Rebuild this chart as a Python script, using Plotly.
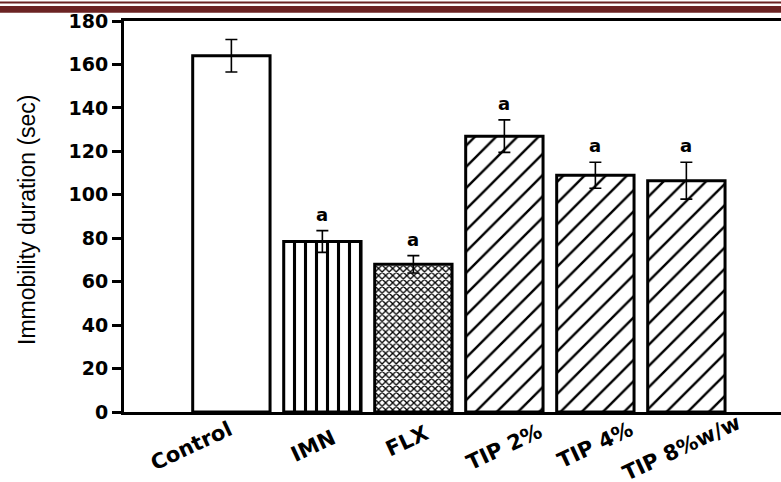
import plotly.graph_objects as go

categories = ["Control", "IMN", "FLX", "TIP 2%", "TIP 4%", "TIP 8%w/w"]
means = [164, 78.5, 68, 127, 109, 106.5]
errors = [7.5, 5, 4, 7.5, 6, 8.5]
sig_labels = ["", "a", "a", "a", "a", "a"]

pattern_shapes = ["", "|", "x", "/", "/", "/"]
pattern_sizes = [10, 11, 5, 15, 15, 15]
pattern_solid = [0.3, 0.28, 0.45, 0.16, 0.16, 0.16]

# horizontal offsets (px) of the rotated category labels' centres from the bar centres
label_xshift = [-40, -9, -6, 0, 0, -5]
label_center_y = [446, 446, 441, 447, 445, 448]

W, H = 781, 482
L, R, T, B = 124, 0, 21, 70
pw, ph = W - L - R, H - T - B

def px2paper_x(px):
    return (px - L) / pw

def px2paper_y(py):
    return (H - B - py) / ph

BOLD = dict(family="DejaVu Sans, Arial", color="black", weight="bold")

fig = go.Figure()
fig.add_trace(go.Bar(
    x=categories, y=means,
    marker=dict(
        color="white",
        line=dict(color="black", width=3),
        pattern=dict(shape=pattern_shapes, size=pattern_sizes, solidity=pattern_solid,
                     fgcolor="black", bgcolor="white", fillmode="replace"),
    ),
    error_y=dict(type="data", array=errors, visible=True, color="black", thickness=1.6, width=6),
    width=0.85,
    showlegend=False,
    hoverinfo="skip",
))

annotations = []
for c, m, e, s in zip(categories, means, errors, sig_labels):
    if s:
        annotations.append(dict(x=c, y=m + e, text=s, showarrow=False, yanchor="bottom",
                                yshift=4, font=dict(BOLD, size=18)))

for c, dx, cy in zip(categories, label_xshift, label_center_y):
    annotations.append(dict(x=c, xref="x", yref="paper", y=px2paper_y(cy), xshift=dx,
                            text=c, textangle=-25, showarrow=False,
                            xanchor="center", yanchor="middle",
                            font=dict(BOLD, size=21)))

annotations.append(dict(xref="paper", yref="paper", x=px2paper_x(27), y=px2paper_y(220),
                        text="Immobility duration (sec)", textangle=-90, showarrow=False,
                        xanchor="center", yanchor="middle",
                        font=dict(family="Liberation Sans Narrow, Arial Narrow, Liberation Sans, Arial",
                                  size=23, color="black")))

shapes = [
    dict(type="rect", xref="paper", yref="paper", x0=px2paper_x(0), x1=1,
         y0=px2paper_y(3.4), y1=px2paper_y(1.6), fillcolor="#6b2323", line=dict(width=0), layer="above"),
    dict(type="rect", xref="paper", yref="paper", x0=px2paper_x(0), x1=1,
         y0=px2paper_y(12.8), y1=px2paper_y(6), fillcolor="#6b2323", line=dict(width=0), layer="above"),
]

fig.update_layout(
    width=W, height=H,
    margin=dict(l=L, r=R, t=T, b=B, pad=0, autoexpand=False),
    paper_bgcolor="white", plot_bgcolor="white",
    annotations=annotations, shapes=shapes,
    xaxis=dict(range=[-1.18, 6.04], showline=True, linewidth=3, linecolor="black", mirror=True,
               showgrid=False, zeroline=False, ticks="", showticklabels=False, automargin=False),
    yaxis=dict(range=[0, 180], dtick=20, showline=True, linewidth=3, linecolor="black",
               showgrid=False, zeroline=False, ticks="outside", ticklen=9, tickwidth=3,
               tickcolor="black", automargin=False,
               tickfont=dict(BOLD, size=19)),
)

fig.write_html("out.html", config={"displayModeBar": False},
               post_script="document.body.style.margin='0';document.body.style.overflow='hidden';")
